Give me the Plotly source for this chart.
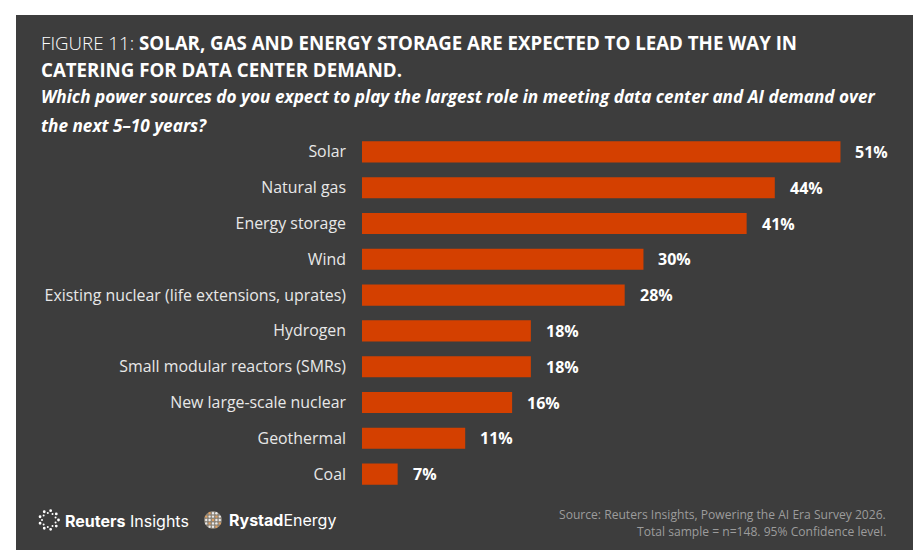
import math
import plotly.graph_objects as go

# ---- data ----
categories = ["Solar", "Natural gas", "Energy storage", "Wind",
              "Existing nuclear (life extensions, uprates)", "Hydrogen",
              "Small modular reactors (SMRs)", "New large-scale nuclear",
              "Geothermal", "Coal"]
# bar lengths as drawn in the reference (the Coal bar is drawn shorter than its label)
values = [51, 44, 41, 30, 28, 18, 18, 16, 11, 3.8]
value_labels = ["51%", "44%", "41%", "30%", "28%", "18%", "18%", "16%", "11%", "7%"]

title_light = "FIGURE 11: "
title_bold_1 = "SOLAR, GAS AND ENERGY STORAGE ARE EXPECTED TO LEAD THE WAY IN"
title_bold_2 = "CATERING FOR DATA CENTER DEMAND."
subtitle_1 = "Which power sources do you expect to play the largest role in meeting data center and AI demand over"
subtitle_2 = "the next 5–10 years?"
source_1 = "Source: Reuters Insights, Powering the AI Era Survey 2026."
source_2 = "Total sample = n=148. 95% Confidence level."

# ---- layout geometry ----
WIDTH, HEIGHT = 924, 556
L, R, T, B = 362, 46, 134, 64
PW, PH = WIDTH - L - R, HEIGHT - T - B
BG = "#3d3d3d"
BAR = "#d44000"
FONT = "Open Sans"


def px(x):
    return (x - L) / PW


def py(y):
    return (HEIGHT - B - y) / PH


fig = go.Figure()
fig.add_trace(go.Bar(
    x=values, y=categories, orientation="h",
    marker=dict(color=BAR, line=dict(width=0)),
    hoverinfo="skip",
))

annotations = []
for c, v, t in zip(categories, values, value_labels):
    annotations.append(dict(x=v, y=c, xref="x", yref="y", text=f"<b>{t}</b>",
                            showarrow=False, xanchor="left", yanchor="middle",
                            xshift=13, font=dict(family=FONT, size=16, color="#ffffff")))


def ann(x, y, text, size, color, xanchor="left", family=FONT):
    annotations.append(dict(x=px(x), y=py(y), xref="paper", yref="paper", text=text,
                            showarrow=False, xanchor=xanchor, yanchor="middle",
                            align=xanchor, font=dict(family=family, size=size, color=color)))


ann(39, 43, f"<span style='font-weight:300'>{title_light}</span><b>{title_bold_1}</b>", 18.7, "#ffffff")
ann(39, 70, f"<b>{title_bold_2}</b>", 18.7, "#ffffff")
ann(39, 97, f"<b><i>{subtitle_1}</i></b>", 17.2, "#ffffff")
ann(39, 125, f"<b><i>{subtitle_2}</i></b>", 17.2, "#ffffff")
ann(888, 514, source_1, 12.1, "#9c9c9c", xanchor="right")
ann(888, 531, source_2, 12.1, "#9c9c9c", xanchor="right")
ann(63, 521, "<b>Reuters</b> Insights", 16, "#ffffff", family="Inter")
ann(227, 520, "<b>Rystad</b>Energy", 16, "#ffffff", family="Inter")

shapes = [dict(type="rect", xref="paper", yref="paper", x0=px(16), x1=px(913),
               y0=py(550), y1=py(15), fillcolor=BG, line=dict(width=0), layer="below")]

# Reuters dotted ring logo
cx, cy = 49, 520
for i in range(18):
    a = 2 * math.pi * i / 18
    rr = 9.5 if i % 2 == 0 else 7
    x = cx + rr * math.cos(a)
    y = cy + rr * math.sin(a)
    s = 1.4 if i % 2 == 0 else 1.0
    shapes.append(dict(type="circle", xref="paper", yref="paper",
                       x0=px(x - s), x1=px(x + s), y0=py(y + s), y1=py(y - s),
                       fillcolor="#ffffff", line=dict(width=0)))
# Rystad globe logo
gx, gy = 213, 520
shapes.append(dict(type="circle", xref="paper", yref="paper",
                   x0=px(gx - 9), x1=px(gx + 9), y0=py(gy + 9), y1=py(gy - 9),
                   fillcolor="#8a8378", line=dict(width=0)))
for i in range(-2, 3):
    for j in range(-2, 3):
        if i * i + j * j <= 5:
            x, y = gx + i * 3.4, gy + j * 3.4
            col = "#e0a060" if (i + j) % 3 == 0 else "#e8e8e8"
            shapes.append(dict(type="circle", xref="paper", yref="paper",
                               x0=px(x - 1.2), x1=px(x + 1.2), y0=py(y + 1.2), y1=py(y - 1.2),
                               fillcolor=col, line=dict(width=0)))

fig.update_layout(
    width=WIDTH, height=HEIGHT,
    margin=dict(l=L, r=R, t=T, b=B, autoexpand=False),
    paper_bgcolor="#ffffff", plot_bgcolor=BG,
    showlegend=False, bargap=0.41,
    font=dict(family=FONT, color="#e8e8e8"),
    xaxis=dict(range=[0, 55], visible=False, fixedrange=True),
    yaxis=dict(autorange="reversed", showgrid=False, zeroline=False, showline=False,
               ticks="", ticklabelstandoff=15,
               tickfont=dict(family=FONT, size=15.9, color="#e8e8e8"), fixedrange=True),
    annotations=annotations, shapes=shapes,
)

fig.write_html("out.html", config={"displayModeBar": False})
